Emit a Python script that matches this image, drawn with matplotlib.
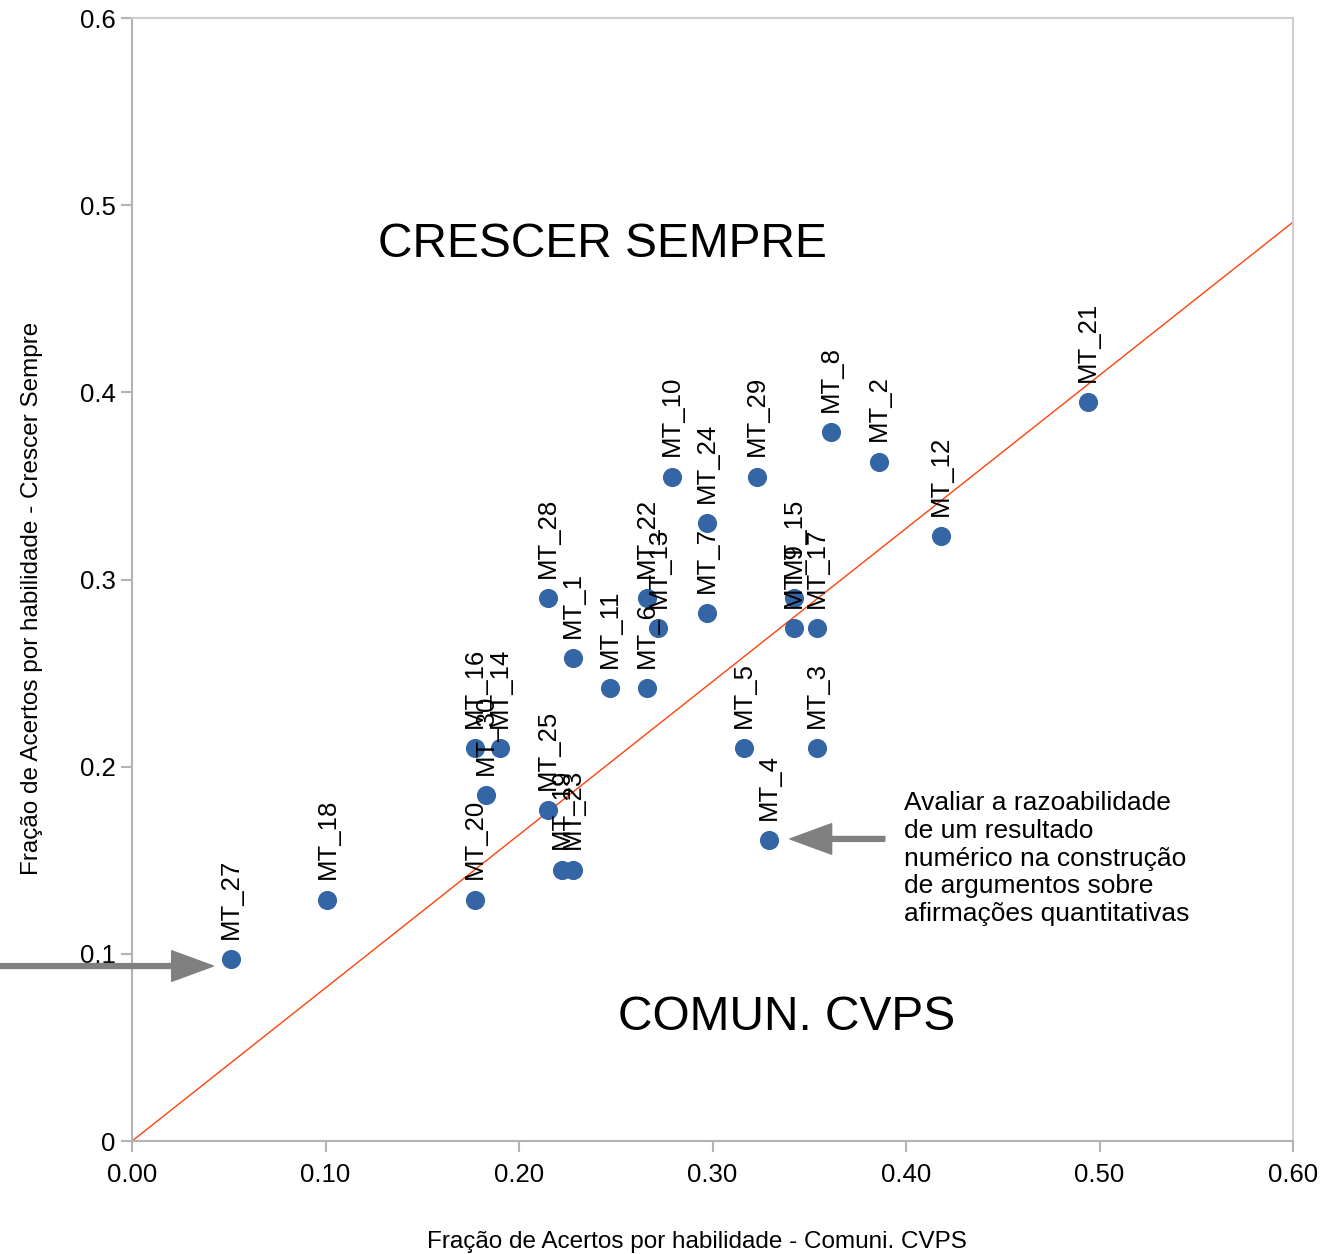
#!/usr/bin/env python3

import matplotlib
matplotlib.use("Agg")
import matplotlib.pyplot as plt
from matplotlib.ticker import FuncFormatter

plt.rcParams["font.family"] = ["Liberation Sans", "DejaVu Sans"]

labels = ["MT_27", "MT_18", "MT_20", "MT_16", "MT_14", "MT_30", "MT_25",
          "MT_19", "MT_23", "MT_28", "MT_1", "MT_11", "MT_6", "MT_22",
          "MT_13", "MT_10", "MT_24", "MT_7", "MT_29", "MT_5", "MT_4",
          "MT_15", "MT_9", "MT_17", "MT_3", "MT_8", "MT_2", "MT_12", "MT_21"]
comuni = [0.051, 0.101, 0.177, 0.177, 0.190, 0.183, 0.215,
          0.222, 0.228, 0.215, 0.228, 0.247, 0.266, 0.266,
          0.272, 0.279, 0.297, 0.297, 0.323, 0.316, 0.329,
          0.342, 0.342, 0.354, 0.354, 0.361, 0.386, 0.418, 0.494]
crescer = [0.097, 0.129, 0.129, 0.210, 0.210, 0.185, 0.177,
           0.145, 0.145, 0.290, 0.258, 0.242, 0.242, 0.290,
           0.274, 0.355, 0.330, 0.282, 0.355, 0.210, 0.161,
           0.290, 0.274, 0.274, 0.210, 0.379, 0.363, 0.323, 0.395]
ref_x = [0.0, 0.6]
ref_y = [0.0, 0.491]

fig = plt.figure(figsize=(13.34, 12.54), dpi=100)
ax = fig.add_axes([0.099, 0.0901, 0.8703, 0.8955])

ax.plot(ref_x, ref_y, color="#ff420e", lw=1, zorder=2)
ax.scatter(comuni, crescer, s=190, color="#3465a4", zorder=3, linewidths=0)
for name, x, y in zip(labels, comuni, crescer):
  ax.annotate(name, (x, y), xytext=(0, 14.5), textcoords="offset points",
              rotation=90, ha="center", va="bottom", fontsize=18.5, zorder=4)

ax.set_xlim(0, 0.6)
ax.set_ylim(0, 0.6)
ax.set_xticks([0, 0.1, 0.2, 0.3, 0.4, 0.5, 0.6])
ax.set_yticks([0, 0.1, 0.2, 0.3, 0.4, 0.5, 0.6])
ax.xaxis.set_major_formatter(FuncFormatter(lambda v, p: "%.2f" % v))
ax.yaxis.set_major_formatter(FuncFormatter(lambda v, p: "%g" % round(v, 2)))
ax.tick_params(labelsize=18.5, color="#b3b3b3", length=8, width=1.5)
ax.tick_params(axis="x", pad=8)
ax.tick_params(axis="y", pad=4)
for s in ["left", "bottom"]:
  ax.spines[s].set_color("#b3b3b3")
  ax.spines[s].set_linewidth(1.5)
for s in ["top", "right"]:
  ax.spines[s].set_color("#d0d0d0")
  ax.spines[s].set_linewidth(1.5)

ax.set_xlabel("Fração de Acertos por habilidade - Comuni. CVPS", fontsize=17.5)
ax.set_ylabel("Fração de Acertos por habilidade - Crescer Sempre", fontsize=17.5)
ax.xaxis.set_label_coords(0.4866, -0.080)
ax.yaxis.set_label_coords(-0.077, 0.4835)

ax.text(0.127, 0.479, "CRESCER SEMPRE", fontsize=34.5, va="center", ha="left")
ax.text(0.251, 0.066, "COMUN. CVPS", fontsize=34.5, va="center", ha="left")
ax.text(0.399, 0.187,
        "Avaliar a razoabilidade\nde um resultado\nnumérico na construção\n"
        "de argumentos sobre\nafirmações quantitativas",
        fontsize=19, va="top", ha="left", linespacing=1.2)

arrow = dict(facecolor="#808080", edgecolor="#808080", width=3.5,
             headwidth=22, headlength=30, shrink=0)
ax.annotate("", xy=(0.042, 0.0935), xytext=(-0.07, 0.0935),
            arrowprops=arrow, annotation_clip=False)
ax.annotate("", xy=(0.340, 0.1614), xytext=(0.389, 0.1614),
            arrowprops=arrow, annotation_clip=False)

plt.savefig("out.png")
